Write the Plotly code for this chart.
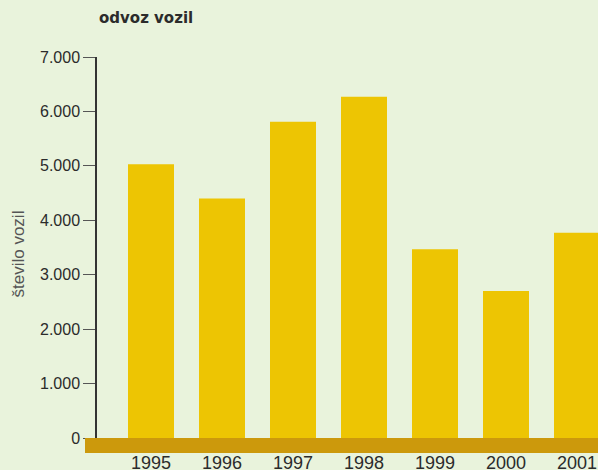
import plotly.graph_objects as go

years = ["1995", "1996", "1997", "1998", "1999", "2000", "2001"]
vehicles = [5030, 4400, 5810, 6270, 3470, 2700, 3770]
y_tick_vals = [0, 1000, 2000, 3000, 4000, 5000, 6000, 7000]
y_tick_text = ["0", "1.000", "2.000", "3.000", "4.000", "5.000", "6.000", "7.000"]

BG = "#E9F3DC"
BAR = "#EDC503"
BAND = "#CC990C"
TXT = "#2b2b2b"

W, H = 598, 470
L, R, T, B = 97, 0, 57, 32
pw = W - L - R
ph = H - T - B

fig = go.Figure(go.Bar(
    x=years, y=vehicles, marker=dict(color=BAR, line=dict(width=0)),
    width=46 / 71, hoverinfo="x+y",
))

fig.update_layout(
    width=W, height=H,
    margin=dict(l=L, r=R, t=T, b=B, pad=0, autoexpand=False),
    paper_bgcolor=BG, plot_bgcolor=BG,
    showlegend=False,
    font=dict(family="Liberation Sans, Arial, sans-serif", color=TXT),
    xaxis=dict(
        type="category", range=[(97 - 151) / 71, (598 - 151) / 71],
        showline=False, showgrid=False, zeroline=False, ticks="",
        tickfont=dict(size=18, color=TXT), ticklabelstandoff=12,
        automargin=False,
    ),
    yaxis=dict(
        range=[0, 7000], tickvals=y_tick_vals, ticktext=y_tick_text,
        showgrid=False, zeroline=False,
        showline=True, linecolor="#333333", linewidth=1.5,
        ticks="outside", ticklen=12, tickwidth=1.3, tickcolor="#555555",
        tickfont=dict(size=16, color=TXT), automargin=False,
    ),
    shapes=[dict(
        type="rect", xref="paper", yref="paper",
        x0=(85 - L) / pw, x1=1.0, y0=-(453 - 438) / ph, y1=0.0,
        fillcolor=BAND, line=dict(width=0), layer="above",
    )],
    annotations=[
        dict(text="<b>odvoz vozil</b>", xref="paper", yref="paper",
             x=(97 - L) / pw, y=(438 - 29) / ph, xanchor="left", yanchor="bottom",
             showarrow=False, font=dict(family="DejaVu Sans", size=15, color=TXT)),
        dict(text="število vozil", xref="paper", yref="paper",
             x=(17.5 - L) / pw, y=(438 - 254) / ph, xanchor="center", yanchor="middle",
             textangle=-90, showarrow=False,
             font=dict(family="Liberation Sans, Arial, sans-serif", size=17, color="#555555")),
    ],
)

fig.write_html(
    "out.html",
    config={"displayModeBar": False},
    post_script="document.body.style.margin='0';document.body.style.overflow='hidden';",
)
